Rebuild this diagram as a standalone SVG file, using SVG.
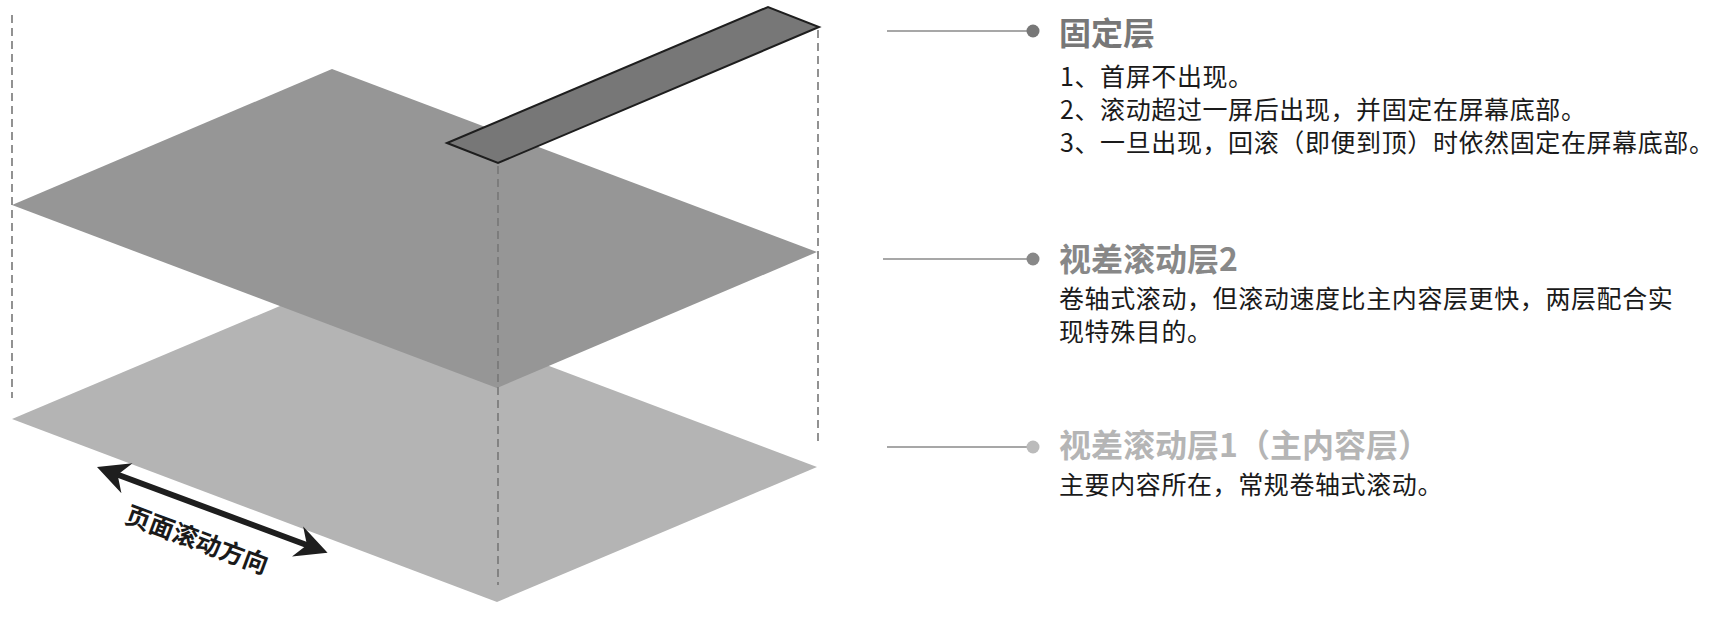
<svg xmlns="http://www.w3.org/2000/svg" width="1712" height="620" viewBox="0 0 1712 620">
<style>
.dash{stroke:#777;stroke-width:1.6;stroke-dasharray:8 5;fill:none}
.lead{stroke:#8a8a8a;stroke-width:1.6;fill:none}
.title{font-family:"Noto Sans CJK SC","Noto Sans",sans-serif;font-weight:bold;font-size:32px}
.body{font-family:"Noto Sans CJK SC","Noto Sans",sans-serif;font-size:25px;letter-spacing:0.6px;fill:#1a1a1a}
.lbl{font-family:"Noto Sans CJK SC","Noto Sans",sans-serif;font-weight:bold;font-size:25px;fill:#1a1a1a}
</style>
<rect width="1712" height="620" fill="#fff"/>
<g id="layer1">
<polygon points="12,419 332,284 817,467 497,602" fill="#b4b4b4"/>
</g>
<g id="layer2">
<polygon points="12,205 332,69 817,252 497,388" fill="#969696"/>
</g>
<g id="fixed-layer">
<polygon points="447,143 498,163 819,27 768,7" fill="#777" stroke="#1e1e1e" stroke-width="2" stroke-linejoin="miter"/>
</g>
<g id="connectors">
<line class="dash" x1="12" y1="15" x2="12" y2="398"/>
<line class="dash" x1="498" y1="166" x2="498" y2="585"/>
<line class="dash" x1="818" y1="30" x2="818" y2="445"/>
<line class="lead" x1="887" y1="31" x2="1028" y2="31"/>
<circle cx="1033" cy="31" r="6.5" fill="#777"/>
<line class="lead" x1="883" y1="259" x2="1028" y2="259"/>
<circle cx="1033" cy="259" r="6.5" fill="#888"/>
<line class="lead" x1="887" y1="447" x2="1028" y2="447"/>
<circle cx="1033" cy="447" r="6.5" fill="#bbb"/>
</g>
<g id="scroll-arrow">
<g transform="translate(97,467) rotate(20.4)">
<line x1="18" y1="0" x2="228" y2="0" stroke="#1e1e1e" stroke-width="6"/>
<path d="M0,0 L32,-16 L22,0 L32,16 Z" fill="#1e1e1e"/>
<path d="M246,0 L214,-16 L224,0 L214,16 Z" fill="#1e1e1e"/>
</g>
<text class="lbl" transform="translate(197,540) rotate(20.4)" x="0" y="9" text-anchor="middle">页面滚动方向</text>
</g>
<g id="fixed-text">
<text class="title" x="1059" y="45" fill="#777">固定层</text>
<text class="body" x="1060" y="86">1、首屏不出现。</text>
<text class="body" x="1060" y="119">2、滚动超过一屏后出现，并固定在屏幕底部。</text>
<text class="body" x="1060" y="152">3、一旦出现，回滚（即便到顶）时依然固定在屏幕底部。</text>
</g>
<g id="parallax2-text">
<text class="title" x="1059" y="271" fill="#888">视差滚动层2</text>
<text class="body" x="1059" y="308">卷轴式滚动，但滚动速度比主内容层更快，两层配合实</text>
<text class="body" x="1059" y="341">现特殊目的。</text>
</g>
<g id="parallax1-text">
<text class="title" x="1059" y="457" fill="#b5b5b5">视差滚动层1（主内容层）</text>
<text class="body" x="1059" y="494">主要内容所在，常规卷轴式滚动。</text>
</g>
</svg>
